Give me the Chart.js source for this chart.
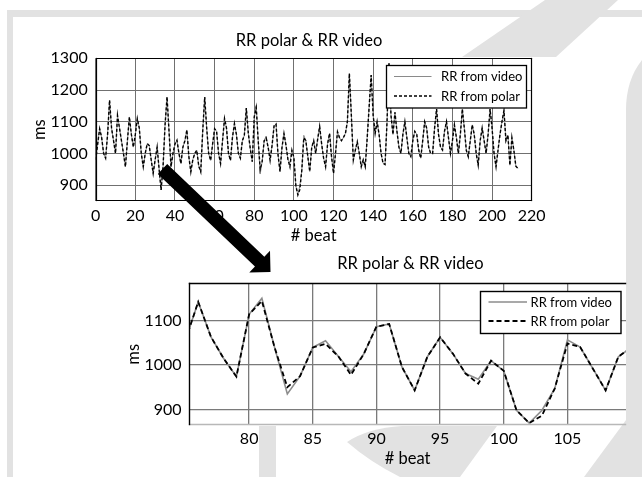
<!DOCTYPE html>
<html>
<head>
<meta charset="utf-8">
<script src="https://cdn.jsdelivr.net/npm/chart.js@4.4.1/dist/chart.umd.min.js"></script>
<style>
  html, body { margin: 0; padding: 0; background: #fff; }
  #stage { position: relative; width: 642px; height: 477px; overflow: hidden; background: #fff; }
  #stage canvas { position: absolute; }
</style>
</head>
<body>
<div id="stage">
  <canvas id="backdrop" width="642" height="477" style="left:0;top:0"></canvas>
  <canvas id="overview" width="589" height="230" style="left:0;top:20px"></canvas>
  <canvas id="detail" width="597" height="232" style="left:100px;top:245px"></canvas>
  <canvas id="pointer" width="642" height="477" style="left:0;top:0"></canvas>
</div>
<script>
// RR intervals per beat (ms), camera-derived and chest-strap reference
const rrVideo = [
  980, 1030, 1078, 1050, 1000, 985, 1060, 1168, 1080, 1040,
  1000, 1120, 1080, 1040, 1000, 958, 1040, 1115, 1060, 1020,
  1060, 1110, 1080, 1000, 958, 1000, 1031, 1025, 980, 937,
  980, 1020, 950, 885, 960, 1090, 1178, 1070, 958, 1000,
  1030, 1042, 1000, 968, 1020, 1040, 1074, 990, 942, 980,
  1000, 1010, 960, 942, 1070, 1178, 1080, 1000, 978, 1030,
  1078, 1070, 1000, 968, 1040, 1110, 1080, 1000, 978, 1050,
  1094, 1060, 1000, 985, 1040, 1057, 1143, 1064, 1015, 974,
  1115, 1151, 1040, 935, 975, 1040, 1055, 1020, 985, 1025,
  1087, 1093, 996, 943, 1019, 1063, 1026, 981, 968, 1010,
  987, 898, 869, 898, 947, 1057, 1041, 992, 943, 1019,
  1040, 1000, 1045, 1085, 1030, 985, 958, 1030, 1063, 990,
  937, 1000, 1068, 1050, 1040, 1050, 1063, 1100, 1252, 1120,
  979, 1010, 1037, 1000, 958, 980, 958, 1050, 1150, 1247,
  1120, 1063, 1100, 1060, 1000, 969, 965, 1100, 1284, 1120,
  1060, 1130, 1070, 1020, 1000, 1060, 1100, 1050, 1000, 990,
  1040, 1070, 1060, 1010, 985, 1040, 1100, 1080, 1020, 1000,
  1000, 1080, 1140, 1060, 1020, 1011, 1070, 1100, 1050, 1000,
  1040, 1090, 1050, 1000, 1060, 1140, 1080, 1010, 990, 1040,
  1090, 1060, 1000, 963, 1040, 1080, 1040, 1000, 1060, 1140,
  1080, 1000, 958, 1010, 1060, 1100, 1135, 1040, 1058, 963,
  1050, 1010, 960, 953
];
const rrPolar = [
  980, 1030, 1078, 1050, 1000, 985, 1060, 1168, 1080, 1040,
  1000, 1120, 1080, 1040, 1000, 958, 1040, 1115, 1060, 1020,
  1060, 1110, 1080, 1000, 958, 1000, 1031, 1025, 980, 937,
  980, 1020, 950, 885, 960, 1090, 1178, 1070, 958, 1000,
  1030, 1042, 1000, 968, 1020, 1040, 1074, 990, 942, 980,
  1000, 1010, 960, 942, 1070, 1178, 1080, 1000, 978, 1030,
  1078, 1070, 1000, 968, 1040, 1110, 1080, 1000, 978, 1050,
  1094, 1060, 1000, 985, 1040, 1057, 1143, 1064, 1015, 974,
  1115, 1145, 1040, 950, 975, 1040, 1048, 1020, 978, 1025,
  1087, 1093, 996, 943, 1019, 1063, 1026, 981, 958, 1010,
  987, 898, 869, 886, 947, 1049, 1041, 992, 943, 1019,
  1040, 1000, 1045, 1085, 1030, 985, 958, 1030, 1063, 990,
  937, 1000, 1068, 1050, 1040, 1050, 1063, 1100, 1252, 1120,
  979, 1010, 1037, 1000, 958, 980, 958, 1050, 1150, 1247,
  1120, 1063, 1100, 1060, 1000, 969, 965, 1100, 1284, 1120,
  1060, 1130, 1070, 1020, 1000, 1060, 1100, 1050, 1000, 990,
  1040, 1070, 1060, 1010, 985, 1040, 1100, 1080, 1020, 1000,
  1000, 1080, 1140, 1060, 1020, 1011, 1070, 1100, 1050, 1000,
  1040, 1090, 1050, 1000, 1060, 1140, 1080, 1010, 990, 1040,
  1090, 1060, 1000, 963, 1040, 1080, 1040, 1000, 1060, 1140,
  1080, 1000, 958, 1010, 1060, 1100, 1135, 1040, 1058, 963,
  1050, 1010, 960, 953
];
const seriesLabels = ['RR from video', 'RR from polar'];
const chartTitle = 'RR polar & RR video';
const xTitle = '# beat';
const yTitle = 'ms';
const overviewTicksX = [0, 20, 40, 60, 80, 100, 120, 140, 160, 180, 200, 220];
const overviewTicksY = [900, 1000, 1100, 1200, 1300];
const detailTicksX = [80, 85, 90, 95, 100, 105];
const detailTicksY = [900, 1000, 1100];

const FONT = 'Lato, "Open Sans", sans-serif';

function asPoints(values) {
  return values.map((v, i) => ({ x: i, y: v }));
}
function fixedTicks(list) {
  return scale => { scale.ticks = list.map(v => ({ value: v })); };
}

// white plot background plus a frame around the plotting area
const plotFrame = {
  id: 'plotFrame',
  beforeDatasetsDraw(chart, args, o) {
    if (!o.fill) return;
    const a = chart.chartArea, ctx = chart.ctx;
    ctx.save();
    ctx.globalCompositeOperation = 'destination-over';
    ctx.fillStyle = o.fill;
    ctx.fillRect(a.left, a.top, a.right - a.left, a.bottom - a.top);
    ctx.restore();
  },
  afterDatasetsDraw(chart, args, o) {
    const a = chart.chartArea, ctx = chart.ctx;
    const L = Math.round(a.left) + 0.5, R = Math.round(a.right) - 0.5;
    const T = Math.round(a.top) + 0.5, B = Math.round(a.bottom) - 0.5;
    const edge = (c, x1, y1, x2, y2) => {
      if (!c) return;
      ctx.strokeStyle = c;
      ctx.beginPath(); ctx.moveTo(x1, y1); ctx.lineTo(x2, y2); ctx.stroke();
    };
    ctx.save();
    ctx.lineWidth = o.width || 1;
    ctx.lineCap = 'square';
    edge(o.top, L, T, R, T);
    edge(o.bottom, L, B, R, B);
    edge(o.left, L, T, L, B);
    edge(o.right, R, T, R, B);
    ctx.restore();
  }
};

// boxed legend placed inside the upper right corner of the plot
const insetLegend = {
  id: 'insetLegend',
  afterDatasetsDraw(chart, args, o) {
    const a = chart.chartArea, ctx = chart.ctx;
    const x = Math.round(a.right - o.right - o.width) + 0.5;
    const y = Math.round(a.top + o.top) + 0.5;
    ctx.save();
    ctx.fillStyle = '#fff';
    ctx.fillRect(x, y, o.width, o.height);
    ctx.strokeStyle = '#000';
    ctx.lineWidth = o.borderWidth;
    ctx.strokeRect(x, y, o.width, o.height);
    chart.data.datasets.forEach((ds, i) => {
      const ly = y + o.rows[i];
      ctx.strokeStyle = ds.borderColor;
      ctx.lineWidth = ds.borderWidth;
      ctx.setLineDash(ds.borderDash || []);
      ctx.beginPath();
      ctx.moveTo(x + o.sampleX, ly);
      ctx.lineTo(x + o.sampleX + o.sampleLen, ly);
      ctx.stroke();
      ctx.setLineDash([]);
      ctx.fillStyle = '#000';
      ctx.font = o.font;
      ctx.textAlign = 'left';
      ctx.textBaseline = 'middle';
      ctx.fillText(ds.label, x + o.textX, ly + 0.5);
    });
    ctx.restore();
  }
};

function makeChart(id, cfg) {
  const tickFont = { family: FONT, size: 16 };
  const titleFont = { family: FONT, size: 16.5, weight: 'normal', lineHeight: 1.2 };
  return new Chart(document.getElementById(id), {
    type: 'line',
    data: {
      datasets: [
        { label: seriesLabels[0], data: asPoints(rrVideo), borderColor: cfg.videoColor,
          borderWidth: cfg.videoWidth, pointRadius: 0, tension: 0, clip: 0, order: 1,
          xAxisID: 'x', yAxisID: 'y' },
        { label: seriesLabels[1], data: asPoints(rrPolar), borderColor: '#000',
          borderWidth: cfg.polarWidth, borderDash: cfg.dash, pointRadius: 0, tension: 0, clip: 0, order: 0,
          xAxisID: 'x', yAxisID: 'y' }
      ]
    },
    options: {
      responsive: false,
      animation: false,
      devicePixelRatio: 1,
      events: [],
      layout: { padding: cfg.padding },
      plugins: {
        legend: { display: false },
        tooltip: { enabled: false },
        title: { display: true, text: chartTitle, color: '#000', font: titleFont, padding: cfg.titlePad },
        plotFrame: cfg.frame,
        insetLegend: cfg.legend
      },
      scales: {
        x: {
          type: 'linear', min: cfg.xMin, max: cfg.xMax,
          afterBuildTicks: fixedTicks(cfg.xTicks),
          afterFit: s => { s.height = cfg.xHeight; },
          grid: { color: cfg.gridColor, lineWidth: cfg.gridWidth, drawTicks: false },
          border: { display: false },
          ticks: { padding: cfg.xTickPad, color: '#000', font: tickFont, maxRotation: 0, autoSkip: false,
                   callback: v => String(v) },
          title: { display: true, text: xTitle, color: '#000', font: titleFont, padding: { top: 0, bottom: cfg.xTitlePad } }
        },
        y: {
          type: 'linear', position: 'left', min: cfg.yMin, max: cfg.yMax,
          afterBuildTicks: fixedTicks(cfg.yTicks),
          afterFit: s => { s.width = cfg.yWidth; },
          grid: { color: cfg.gridColor, lineWidth: cfg.gridWidth, drawTicks: false },
          border: { display: false },
          ticks: { padding: cfg.yTickPad, color: '#000', font: tickFont, callback: v => String(v) },
          title: { display: true, text: yTitle, color: '#000', font: titleFont, padding: { top: 0, bottom: 0 } }
        },
        // empty margin on the right so the heading sits where it should
        gutter: {
          type: 'linear', axis: 'y', position: 'right', display: true,
          afterFit: s => { s.width = cfg.gutter; },
          grid: { display: false, drawTicks: false },
          border: { display: false },
          ticks: { display: false },
          title: { display: false }
        }
      }
    },
    plugins: [plotFrame, insetLegend]
  });
}

// full recording
makeChart('overview', {
  padding: { left: 29.8, right: 0.8, top: 0, bottom: 0 },
  gutter: 56.5,
  titlePad: { top: 10.7, bottom: 7.8 },
  xMin: 0, xMax: 220, xTicks: overviewTicksX, xHeight: 49, xTickPad: 5.4, xTitlePad: 4.5,
  yMin: 850, yMax: 1300, yTicks: overviewTicksY, yWidth: 65.9, yTickPad: 8,
  gridColor: '#707070', gridWidth: 1,
  videoColor: '#8a8a8a', videoWidth: 1, polarWidth: 1.4, dash: [3, 2],
  frame: { fill: '#fff', top: '#000', right: '#000', bottom: '#000', left: '#000', width: 1.2 },
  legend: { right: 6, top: 6.7, width: 140, height: 42.5, borderWidth: 1.3,
            rows: [11, 30.5], sampleX: 7.5, sampleLen: 37.5, textX: 54.5, font: '13px ' + FONT }
});

// zoom on beats 75 to 110
makeChart('detail', {
  padding: { left: 23.8, right: 0, top: 0, bottom: 0 },
  gutter: 71,
  titlePad: { top: 8.4, bottom: 10.1 },
  xMin: 75.3, xMax: 109.6, xTicks: detailTicksX, xHeight: 51.7, xTickPad: 4.1, xTitlePad: 8.1,
  yMin: 864, yMax: 1185, yTicks: detailTicksY, yWidth: 65.5, yTickPad: 7.7,
  gridColor: '#7a7a7a', gridWidth: 1.3,
  videoColor: '#8c8c8c', videoWidth: 1.6, polarWidth: 1.8, dash: [5, 3],
  frame: { fill: null, top: '#000', left: '#000', bottom: '#b8b8b8', right: null, width: 1.4 },
  legend: { right: 5.5, top: 7.4, width: 140.5, height: 42, borderWidth: 1.4,
            rows: [10.5, 29.5], sampleX: 8, sampleLen: 38.5, textX: 50, font: '13px ' + FONT }
});

// page frame and faint background motif
(function drawBackdrop() {
  const ctx = document.getElementById('backdrop').getContext('2d');
  ctx.fillStyle = '#e2e2e2';
  ctx.fillRect(7, 10, 635, 7);
  ctx.fillRect(7, 10, 6, 467);
  // upper right stroke
  ctx.beginPath();
  ctx.moveTo(545, 0); ctx.lineTo(618, 0); ctx.lineTo(556, 57); ctx.lineTo(462, 57); ctx.closePath();
  ctx.fill();
  // right margin band
  ctx.beginPath();
  ctx.moveTo(642, 60); ctx.quadraticCurveTo(626, 80, 626, 110); ctx.lineTo(626, 477); ctx.lineTo(642, 477);
  ctx.closePath(); ctx.fill();
  // lower right wedge
  ctx.beginPath();
  ctx.moveTo(626, 420); ctx.lineTo(626, 477); ctx.lineTo(584, 477); ctx.closePath(); ctx.fill();
  // bar and leaf under the zoomed panel
  ctx.fillRect(259, 426, 17, 51);
  ctx.beginPath();
  ctx.moveTo(347, 442);
  ctx.quadraticCurveTo(368, 428, 402, 426);
  ctx.lineTo(497, 426); ctx.lineTo(460, 477); ctx.lineTo(400, 477);
  ctx.quadraticCurveTo(370, 462, 347, 442);
  ctx.closePath(); ctx.fill();
})();

// arrow linking the overview to the zoomed panel
(function drawPointer() {
  const ctx = document.getElementById('pointer').getContext('2d');
  const sx = 162.5, sy = 169, tx = 270.5, ty = 272;
  const len = Math.hypot(tx - sx, ty - sy);
  const dx = (tx - sx) / len, dy = (ty - sy) / len, nx = -dy, ny = dx;
  const head = 15, half = 15, shaft = 6.8;
  const bx = tx - dx * head, by = ty - dy * head;
  ctx.fillStyle = '#000';
  ctx.beginPath();
  ctx.moveTo(sx + nx * shaft, sy + ny * shaft);
  ctx.lineTo(bx + nx * shaft, by + ny * shaft);
  ctx.lineTo(bx + nx * half, by + ny * half);
  ctx.lineTo(tx, ty);
  ctx.lineTo(bx - nx * half, by - ny * half);
  ctx.lineTo(bx - nx * shaft, by - ny * shaft);
  ctx.lineTo(sx - nx * shaft, sy - ny * shaft);
  ctx.closePath();
  ctx.fill();
})();
</script>
</body>
</html>
